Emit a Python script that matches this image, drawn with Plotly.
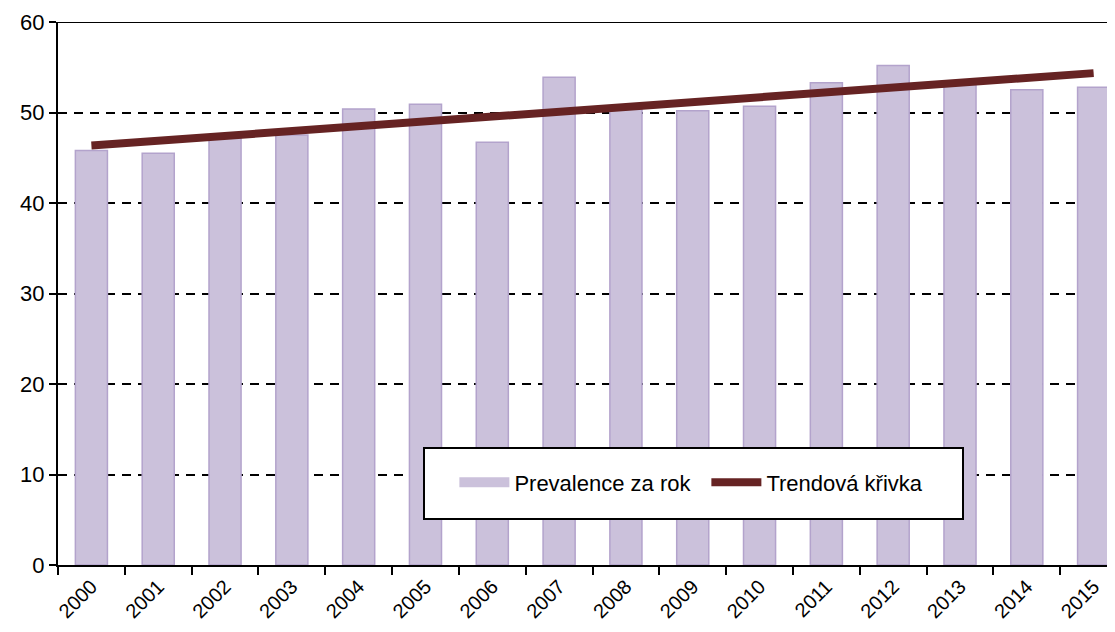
import plotly.graph_objects as go

years = [str(y) for y in range(2000, 2016)]
prevalence = [45.8, 45.5, 47.2, 47.5, 50.4, 50.9, 46.7, 53.9,
              50.5, 50.2, 50.7, 53.3, 55.2, 53.4, 52.5, 52.8]

# Excel linear trend line, read at its two ends
trend_years = ["2000", "2015"]
trend_values = [46.35, 54.35]

font_family = "Liberation Sans, Arial, sans-serif"
bar_fill = "#cbc1db"
bar_edge = "#b3a3cc"
trend_color = "#662323"

fig = go.Figure()

fig.add_trace(go.Bar(
    x=years,
    y=prevalence,
    name="Prevalence za rok",
    showlegend=False,
    marker=dict(color=bar_fill, line=dict(color=bar_edge, width=1.5)),
))

# legend entry with a wide swatch like the Excel legend
fig.add_trace(go.Scatter(
    x=[None], y=[None],
    mode="lines",
    name="Prevalence za rok",
    line=dict(color=bar_fill, width=14),
))

fig.add_trace(go.Scatter(
    x=trend_years,
    y=trend_values,
    mode="lines",
    name="Trendová křivka",
    line=dict(color=trend_color, width=8),
))

# page body has an 8px margin, so the figure is sized to fit the window
fig.update_layout(
    width=1107,
    height=624,
    margin=dict(l=50, r=0, t=14, b=67),
    paper_bgcolor="white",
    plot_bgcolor="white",
    font=dict(family=font_family, size=21, color="black"),
    bargap=0.52,
    showlegend=True,
    legend=dict(
        orientation="h",
        x=0.375, y=0.152,
        xanchor="left", yanchor="middle",
        bgcolor="rgba(0,0,0,0)",
        font=dict(size=22),
        itemwidth=50,
        entrywidth=187,
        traceorder="normal",
    ),
    shapes=[
        # legend frame
        dict(type="rect", xref="paper", yref="paper",
             x0=(424 - 58) / 1057, x1=(963 - 58) / 1057,
             y0=(565 - 519) / 543, y1=(565 - 448) / 543,
             fillcolor="white", line=dict(color="black", width=2),
             layer="above"),
        # solid top border
        dict(type="line", xref="paper", yref="y",
             x0=0, x1=1, y0=60, y1=60,
             line=dict(color="black", width=2)),
    ],
)

fig.update_xaxes(
    type="category",
    range=[-0.5, 15.32],
    tickangle=-45,
    tickson="boundaries",
    ticks="outside",
    ticklen=8,
    tickwidth=2,
    tickcolor="black",
    showline=True,
    linecolor="black",
    linewidth=2,
    showgrid=False,
    automargin=False,
    tickfont=dict(size=20),
)

fig.update_yaxes(
    range=[0, 60],
    dtick=10,
    ticks="outside",
    ticklen=7,
    tickwidth=2,
    tickcolor="black",
    showline=True,
    linecolor="black",
    linewidth=2,
    showgrid=True,
    gridcolor="black",
    gridwidth=1.5,
    griddash="9px,7px",
    zeroline=False,
    automargin=False,
    tickfont=dict(size=22),
)

fig.write_html("out.html")
